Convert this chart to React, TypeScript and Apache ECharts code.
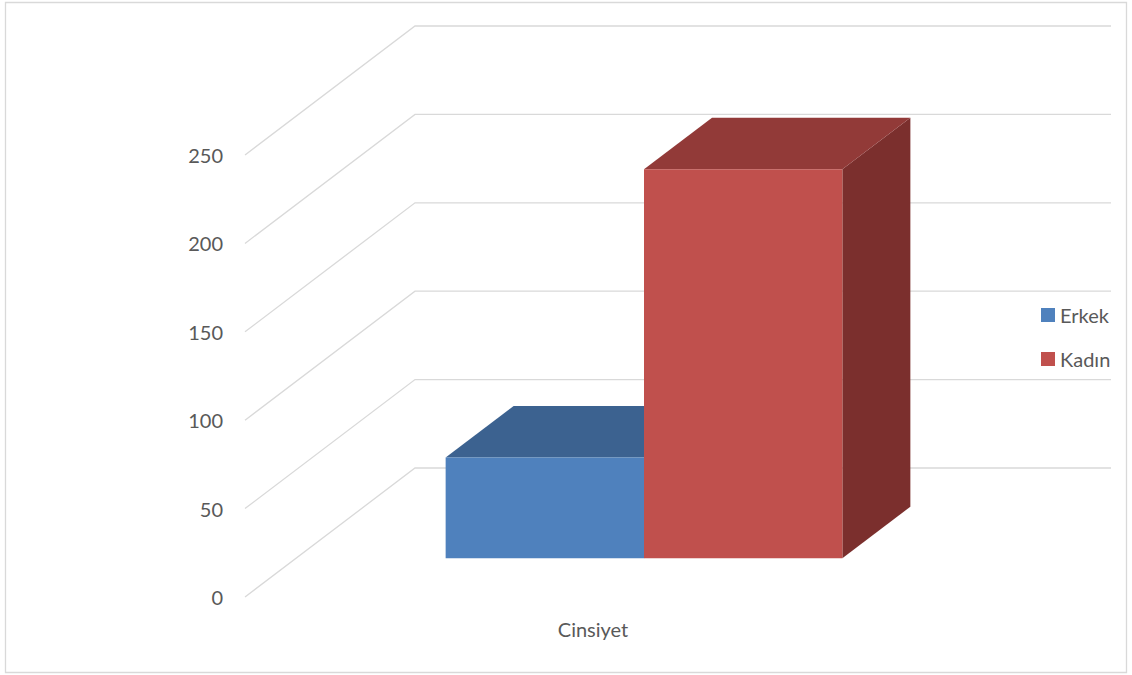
import React, { useEffect, useRef } from "react";
import * as echarts from "echarts";

// Chart data
const categories = ["Cinsiyet"];
const seriesNames = ["Erkek", "Kadın"];
const erkekValues = [57];
const kadinValues = [220];
const yTicks = [0, 50, 100, 150, 200, 250];

// 3D look: oblique depth vector of the floor/walls and the depth slice the bars occupy
const DEPTH_X = 170;
const DEPTH_Y = -129;
const BAR_DEPTH_FROM = 0.3;
const BAR_DEPTH_TO = 0.7;
const BAR_WIDTH_RATIO = 0.285;

const GRID_COLOR = "#D9D9D9";
const TEXT_COLOR = "#595959";
const FONT = "Lato, 'Open Sans', sans-serif";
const FONT_SIZE = 20;

const faces = [
  { front: "#4F81BD", top: "#3C6290", side: "#2F4E74" },
  { front: "#C0504D", top: "#923A38", side: "#7B2F2D" },
];

function makeBarRenderer(seriesIdx: number) {
  return (params: any, api: any) => {
    const cat = api.value(0);
    const val = api.value(1);
    const base = api.coord([cat, 0]);
    const topPt = api.coord([cat, val]);
    const band = api.size([1, 0])[0];
    const w = band * BAR_WIDTH_RATIO;
    const dx0 = DEPTH_X * BAR_DEPTH_FROM;
    const dy0 = DEPTH_Y * BAR_DEPTH_FROM;
    const ddx = DEPTH_X * (BAR_DEPTH_TO - BAR_DEPTH_FROM);
    const ddy = DEPTH_Y * (BAR_DEPTH_TO - BAR_DEPTH_FROM);
    const left = base[0] + dx0 + (seriesIdx === 0 ? -w : 0);
    const right = left + w;
    const bottom = base[1] + dy0;
    const top = topPt[1] + dy0;
    const c = faces[seriesIdx];
    return {
      type: "group",
      children: [
        {
          type: "polygon",
          shape: {
            points: [
              [right, bottom],
              [right + ddx, bottom + ddy],
              [right + ddx, top + ddy],
              [right, top],
            ],
          },
          style: { fill: c.side },
        },
        {
          type: "polygon",
          shape: {
            points: [
              [left, top],
              [right, top],
              [right + ddx, top + ddy],
              [left + ddx, top + ddy],
            ],
          },
          style: { fill: c.top },
        },
        {
          type: "rect",
          shape: { x: left, y: top, width: w, height: bottom - top },
          style: { fill: c.front },
        },
      ],
    };
  };
}

function renderGridLine(params: any, api: any) {
  const v = api.value(0);
  const cs = params.coordSys;
  const p = api.coord([0, v]);
  const x0 = cs.x;
  const y0 = p[1];
  return {
    type: "polyline",
    silent: true,
    shape: {
      points: [
        [x0, y0],
        [x0 + DEPTH_X, y0 + DEPTH_Y],
        [x0 + cs.width + DEPTH_X, y0 + DEPTH_Y],
      ],
    },
    style: { stroke: GRID_COLOR, lineWidth: 1.3, fill: "none" },
  };
}

export default function App() {
  const ref = useRef<HTMLDivElement>(null);

  useEffect(() => {
    document.body.style.margin = "0";
    const chart = echarts.init(ref.current!, undefined, { renderer: "svg" });
    chart.setOption({
      animation: false,
      backgroundColor: "#FFFFFF",
      textStyle: { fontFamily: FONT },
      graphic: [
        {
          type: "rect",
          shape: { x: 5.5, y: 2.5, width: 1121, height: 670 },
          style: { fill: "none", stroke: GRID_COLOR, lineWidth: 1.3 },
          z: -10,
        },
      ],
      grid: { left: 245, right: 191, top: 155, bottom: 78 },
      legend: {
        orient: "vertical",
        left: 1036,
        top: 300,
        itemWidth: 14,
        itemHeight: 14,
        itemGap: 24,
        icon: "rect",
        data: seriesNames,
        textStyle: { color: TEXT_COLOR, fontSize: FONT_SIZE, fontFamily: FONT, lineHeight: 20 },
      },
      xAxis: {
        type: "category",
        data: categories,
        axisLine: { show: false },
        axisTick: { show: false },
        splitLine: { show: false },
        axisLabel: { color: TEXT_COLOR, fontSize: FONT_SIZE, margin: 22, fontFamily: FONT },
      },
      yAxis: {
        type: "value",
        min: 0,
        max: 250,
        interval: 50,
        axisLine: { show: false },
        axisTick: { show: false },
        splitLine: { show: false },
        axisLabel: { color: TEXT_COLOR, fontSize: FONT_SIZE, margin: 22, fontFamily: FONT },
      },
      series: [
        {
          type: "custom",
          name: "grid3d",
          silent: true,
          z: 1,
          data: yTicks.map((t) => [t]),
          encode: { y: 0 },
          renderItem: renderGridLine,
        },
        {
          type: "custom",
          name: seriesNames[0],
          z: 2,
          itemStyle: { color: faces[0].front },
          data: erkekValues.map((v, i) => [i, v]),
          encode: { x: 0, y: 1 },
          renderItem: makeBarRenderer(0),
        },
        {
          type: "custom",
          name: seriesNames[1],
          z: 3,
          itemStyle: { color: faces[1].front },
          data: kadinValues.map((v, i) => [i, v]),
          encode: { x: 0, y: 1 },
          renderItem: makeBarRenderer(1),
        },
      ],
    });
    return () => chart.dispose();
  }, []);

  return <div ref={ref} style={{ width: 1132, height: 675 }} />;
}
